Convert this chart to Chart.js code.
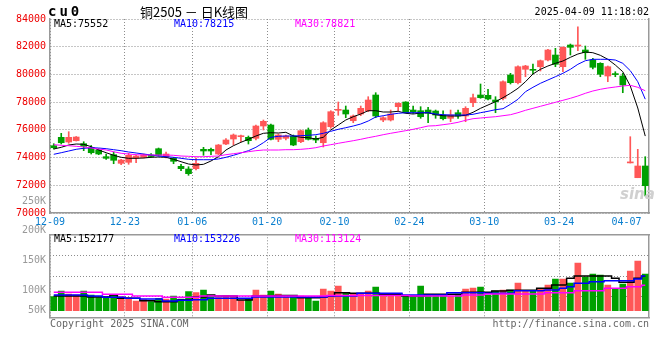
<!DOCTYPE html>
<html>
<head>
<meta charset="utf-8">
<script src="https://cdn.jsdelivr.net/npm/chart.js@4.4.0/dist/chart.umd.min.js"></script>
<style>
body { margin: 0; background: #fff; }
#wrap { position: relative; width: 660px; height: 360px; overflow: hidden; font-family: "DejaVu Sans Mono", monospace; font-size: 10px; }
canvas { position: absolute; left: 0; }
#kline { top: 0; }
#vol { top: 190px; }
.t { position: absolute; white-space: nowrap; line-height: 12px; }
</style>
</head>
<body>
<div id="wrap">
  <canvas id="kline" width="660" height="232"></canvas>
  <canvas id="vol" width="660" height="150"></canvas>
  <div class="t" style="left:48px;top:5px;font-weight:bold;font-size:14px;letter-spacing:3px;">cu0</div>
  <div class="t" style="left:140px;top:4px;font-family:'Noto Sans CJK SC';font-size:13px;line-height:15px;">铜2505 － 日K线图</div>
  <div class="t" style="right:11px;top:6px;">2025-04-09 11:18:02</div>
  <div class="t" id="ma5" style="left:54px;top:18px;color:#000;"></div>
  <div class="t" id="ma10" style="left:174px;top:18px;color:#0000ff;"></div>
  <div class="t" id="ma30" style="left:295px;top:18px;color:#ff00ff;"></div>
  <div class="t" id="vma5" style="left:54px;top:233px;color:#000;"></div>
  <div class="t" id="vma10" style="left:174px;top:233px;color:#0000ff;"></div>
  <div class="t" id="vma30" style="left:295px;top:233px;color:#ff00ff;"></div>
  <div class="t" style="left:620px;top:188px;font-family:'DejaVu Sans';font-style:italic;font-weight:bold;font-size:15px;color:#d0d0d0;">sina</div>
  <div class="t" style="left:50px;top:318px;color:#666;">Copyright 2025 SINA.COM</div>
  <div class="t" style="right:11px;top:318px;color:#666;">http://finance.sina.com.cn</div>
</div>
<script>
// ===== DATA =====
const xTickAt = [0, 10, 19, 29, 38, 48, 58, 68, 77];
const xTickText = ['12-09', '12-23', '01-06', '01-20', '02-10', '02-24', '03-10', '03-24', '04-07'];
const priceTicks = [70000, 72000, 74000, 76000, 78000, 80000, 82000, 84000];

const opens = [74856, 75462, 75123, 75217, 75001, 74690, 74546, 74063, 74207, 73586,
  73659, 73969, 74019, 74185, 74640, 74063, 73947, 73370, 73175, 73197,
  74597, 74597, 74257, 74979, 75340, 75506, 75462, 75390, 76278, 76350,
  75318, 75390, 75556, 75145, 75989, 75390, 75073, 76227, 77411, 77432,
  76660, 77144, 77382, 78515, 76711, 76711, 77671, 78010, 77432, 77382,
  77432, 77360, 77072, 76834, 77238, 76999, 77959, 78515, 78493, 78154,
  78277, 79958, 79403, 80370, 80341, 80557, 81040, 81401, 80557, 82123,
  82051, 81762, 81040, 80802, 79886, 80030, 79886, 73615, 72547, 73392];
const highs = [75001, 75751, 75867, 75520, 75145, 74871, 74640, 74257, 74402, 73875,
  74308, 74185, 74257, 74294, 74690, 74402, 74019, 73514, 73341, 73969,
  74741, 74690, 74943, 75362, 75701, 75628, 75556, 76350, 76711, 76422,
  75701, 75628, 75628, 75989, 76134, 75556, 76588, 77382, 78010, 77721,
  77072, 77721, 78392, 78681, 76949, 77432, 77959, 78030, 77721, 77671,
  77627, 77432, 77382, 77432, 77432, 77671, 78587, 79309, 78926, 78392,
  79547, 80081, 80629, 80658, 80752, 81040, 81812, 81885, 82000, 82195,
  83443, 82051, 81163, 80846, 80608, 80196, 80081, 75506, 74597, 74063];
const lows = [74618, 74979, 75030, 75195, 74496, 74257, 74207, 73875, 73557, 73485,
  73514, 73630, 73969, 74005, 74113, 73969, 73557, 73052, 72720, 73103,
  74164, 74207, 74207, 74929, 74907, 75145, 74979, 75268, 75989, 75268,
  75145, 75268, 74856, 75073, 75268, 75073, 74763, 76112, 77050, 76877,
  76516, 77021, 77310, 76877, 76588, 76639, 77360, 77216, 77194, 76834,
  76516, 76834, 76711, 76588, 76834, 76588, 77671, 78277, 78154, 77238,
  78154, 79309, 79309, 79835, 80030, 80247, 80968, 80557, 80196, 81401,
  81712, 81091, 80391, 79835, 79475, 79835, 78681, 73608, 72547, 71227];
const closes = [74712, 75073, 75462, 75484, 74813, 74351, 74257, 73947, 73803, 73824,
  74164, 74113, 74207, 74077, 74164, 74257, 73731, 73197, 72836, 73586,
  74474, 74474, 74907, 75268, 75628, 75556, 75217, 76278, 76617, 75318,
  75628, 75556, 74907, 75939, 75318, 75268, 76516, 77310, 77454, 77144,
  76999, 77555, 78154, 76999, 76877, 77144, 77916, 77238, 77288, 76949,
  77194, 77072, 76805, 77072, 76999, 77555, 78320, 78320, 78226, 78031,
  79475, 79403, 80557, 80608, 80297, 80990, 81762, 80730, 81957, 81957,
  82101, 81567, 80514, 80009, 80557, 79987, 79236, 73651, 73392, 71970];

const ma5 = [74618, 74741, 74907, 74979, 74957, 74784, 74546, 74351, 74164, 74019,
  73947, 73947, 73969, 74019, 74041, 74019, 73875, 73702, 73536, 73464,
  73514, 73752, 74063, 74546, 74856, 75102, 75318, 75556, 75751, 75794,
  75773, 75823, 75556, 75462, 75434, 75340, 75462, 75989, 76350, 76711,
  76949, 77144, 77382, 77382, 77288, 77288, 77339, 77194, 77144, 77216,
  77238, 77093, 77021, 76999, 76999, 77050, 77267, 77555, 77793, 78031,
  78320, 78638, 78998, 79475, 80030, 80370, 80608, 80802, 80968, 81235,
  81473, 81618, 81567, 81380, 81091, 80680, 80196, 79164, 77577, 75552];
const ma10 = [74236, 74351, 74474, 74597, 74669, 74712, 74690, 74640, 74568, 74496,
  74402, 74330, 74257, 74185, 74113, 74063, 74019, 73947, 73875, 73846,
  73846, 73846, 73897, 74019, 74164, 74330, 74496, 74741, 75073, 75462,
  75535, 75556, 75556, 75578, 75607, 75650, 75751, 75895, 76040, 76155,
  76278, 76422, 76639, 76927, 77021, 77122, 77194, 77238, 77238, 77238,
  77238, 77144, 77093, 77072, 77072, 77072, 77122, 77238, 77339, 77454,
  77526, 77844, 78205, 78753, 79071, 79359, 79597, 79835, 80081, 80370,
  80730, 80990, 81091, 81091, 81091, 81040, 80802, 80269, 79475, 78215];
const ma30 = [74929, 74885, 74856, 74813, 74763, 74690, 74618, 74546, 74423, 74308,
  74257, 74207, 74185, 74185, 74185, 74185, 74164, 74113, 74091, 74063,
  74063, 74091, 74113, 74207, 74279, 74351, 74423, 74496, 74546, 74546,
  74546, 74568, 74568, 74597, 74640, 74712, 74835, 74929, 75030, 75123,
  75217, 75318, 75434, 75535, 75650, 75751, 75845, 75939, 76040, 76155,
  76278, 76300, 76372, 76444, 76545, 76689, 76805, 76855, 76906, 76949,
  77021, 77093, 77238, 77411, 77555, 77700, 77844, 77988, 78132, 78277,
  78443, 78638, 78804, 78926, 79020, 79092, 79164, 79215, 79071, 78821];

const volumes = [62020, 87270, 73980, 69550, 87270, 69550, 57590, 60690, 72650, 62020,
  57590, 42970, 48730, 39870, 54930, 51830, 65120, 51830, 84170, 79740,
  91700, 65120, 57590, 66450, 62020, 44300, 54930, 91700, 69550, 87270,
  73980, 59360, 65120, 65120, 59360, 42970, 96130, 87270, 109420, 77080,
  72650, 75310, 87270, 104990, 73980, 65120, 65120, 65120, 65120, 109420,
  69550, 69550, 65120, 65120, 73980, 96130, 100560, 104990, 69550, 87270,
  91700, 91700, 122710, 88600, 88600, 96130, 113850, 140430, 140430, 122710,
  211310, 149290, 162580, 158150, 113850, 99230, 118280, 175870, 220170, 162580];
const volMa5 = [65120, 65120, 65120, 65120, 65120, 60690, 60690, 60690, 69550, 54930,
  54930, 54930, 44300, 44300, 39870, 39870, 39870, 47400, 47400, 60690,
  60690, 69550, 65120, 65120, 65120, 47400, 47400, 65120, 65120, 65120,
  67340, 67340, 67340, 57590, 57590, 57590, 60690, 65120, 79740, 79740,
  77080, 77080, 77080, 77080, 72650, 72650, 72650, 65120, 65120, 65120,
  72650, 72650, 72650, 72650, 72650, 81510, 81510, 81510, 81510, 87270,
  87270, 90370, 90370, 90370, 90370, 99230, 99230, 113850, 113850, 143530,
  153720, 153720, 153720, 153720, 153720, 143530, 125810, 125810, 143530, 152177];
const volMa10 = [69550, 69550, 69550, 69550, 69550, 65120, 65120, 59360, 59360, 59360,
  54930, 54930, 51830, 51830, 51830, 42970, 42970, 46070, 46070, 48730,
  48730, 54930, 54930, 54930, 54930, 54930, 54930, 60690, 60690, 60690,
  60690, 60690, 60690, 60690, 60690, 60690, 60690, 65120, 65120, 65120,
  65120, 77080, 77080, 77080, 77080, 77080, 77080, 69550, 69550, 69550,
  69550, 69550, 69550, 79740, 79740, 79740, 79740, 79740, 77080, 77080,
  77080, 77080, 88600, 88600, 88600, 88600, 91700, 91700, 99230, 106320,
  121380, 121380, 128470, 128470, 132900, 132900, 132900, 132900, 140430, 153226];
const volMa30 = [81510, 81510, 81510, 81510, 81510, 81510, 81510, 72650, 72650, 72650,
  72650, 65120, 65120, 65120, 65120, 59360, 59360, 59360, 59360, 59360,
  65120, 65120, 65120, 65120, 65120, 65120, 65120, 65120, 65120, 65120,
  65120, 65120, 65120, 65120, 65120, 65120, 65120, 67340, 67340, 67340,
  67340, 67340, 67340, 67340, 67340, 67340, 67340, 67340, 65120, 65120,
  65120, 65120, 65120, 65120, 65120, 69550, 69550, 69550, 73980, 73980,
  73980, 73980, 73980, 73980, 73980, 73980, 79740, 79740, 79740, 79740,
  88600, 88600, 88600, 88600, 99230, 99230, 99230, 106320, 106320, 113124];

const volLabelAt = [0, 90400, 221500, 354400, 486000];
const volLabelText = ['50K', '100K', '150K', '200K', '250K'];

// ===== STYLE =====
const UP = '#ff5757';
const DOWN = '#00a000';
const GRID = '#8c8c8c';
const FRAME = '#999999';
const VOL_MIN = -31000;
const VOL_MAX = 338500;

Chart.defaults.font.family = '"DejaVu Sans Mono", monospace';
Chart.defaults.font.size = 10;
Chart.defaults.animation = false;
Chart.defaults.events = [];

const isUp = opens.map((o, i) => closes[i] >= o);
const barColors = isUp.map(u => u ? UP : DOWN);
const pts = arr => arr.map((v, i) => ({ x: i + 0.5, y: v }));

function dateTicks(scale) {
  scale.ticks = xTickAt.map(v => ({ value: v }));
}
function dateGridColor(ctx) {
  // no dotted line under the last label
  return ctx.tick && ctx.tick.value === 77 ? 'rgba(0,0,0,0)' : GRID;
}

function maLine(data, color, width, stepped) {
  return {
    type: 'line', data: pts(data), borderColor: color, borderWidth: width,
    pointRadius: 0, tension: 0, stepped: stepped, order: 0
  };
}

// ===== K LINE =====
new Chart(document.getElementById('kline'), {
  type: 'bar',
  data: {
    datasets: [
      maLine(ma30, '#ff00ff', 1, false),
      maLine(ma10, '#0000ff', 1, false),
      maLine(ma5, '#000000', 1, false),
      {
        data: opens.map((o, i) => ({ x: i + 0.5, y: [o, closes[i]] })),
        backgroundColor: barColors, barThickness: 6, minBarLength: 1,
        grouped: false, order: 1
      },
      {
        data: lows.map((l, i) => ({ x: i + 0.5, y: [l, highs[i]] })),
        backgroundColor: barColors, barThickness: 1, minBarLength: 1,
        grouped: false, order: 2
      }
    ]
  },
  options: {
    responsive: false,
    layout: { padding: { top: 19, right: 11, left: 0, bottom: 0 } },
    plugins: { legend: { display: false }, tooltip: { enabled: false } },
    scales: {
      x: {
        type: 'linear', min: 0, max: 80, offset: false,
        afterBuildTicks: dateTicks,
        afterFit: s => { s.height = 19; },
        ticks: {
          color: '#0a7fcf', padding: 3, autoSkip: false, maxRotation: 0,
          callback: v => xTickText[xTickAt.indexOf(v)]
        },
        grid: { color: dateGridColor, lineWidth: 1, drawTicks: false, offset: false },
        border: { color: FRAME, width: 1.5, dash: [1, 2] }
      },
      y: {
        type: 'linear', min: 70000, max: 84000,
        afterBuildTicks: s => { s.ticks = priceTicks.map(v => ({ value: v })); },
        afterFit: s => { s.width = 50; },
        ticks: { color: '#ee0000', padding: 4, autoSkip: false, callback: v => String(v) },
        grid: { color: GRID, lineWidth: 1, drawTicks: false },
        border: { color: FRAME, width: 1.5, dash: [1, 2] }
      },
      y2: {
        type: 'linear', position: 'right', min: 70000, max: 84000,
        afterFit: s => { s.width = 0; },
        ticks: { display: false },
        grid: { display: false, drawTicks: false },
        border: { color: FRAME, width: 1.5 }
      }
    }
  }
});

// ===== VOLUME =====
new Chart(document.getElementById('vol'), {
  type: 'bar',
  data: {
    datasets: [
      maLine(volMa30, '#ff00ff', 1.5, 'middle'),
      maLine(volMa10, '#0000ff', 1.5, 'middle'),
      maLine(volMa5, '#000000', 1.5, 'middle'),
      {
        data: pts(volumes), backgroundColor: barColors,
        barThickness: 6, grouped: false, order: 1
      }
    ]
  },
  options: {
    responsive: false,
    layout: { padding: { top: 44.3, right: 11, left: 0, bottom: 22.3 } },
    plugins: { legend: { display: false }, tooltip: { enabled: false } },
    scales: {
      x: {
        type: 'linear', min: 0, max: 80, offset: false,
        afterBuildTicks: dateTicks,
        afterFit: s => { s.height = 0; },
        ticks: { display: false },
        grid: { color: dateGridColor, lineWidth: 1, drawTicks: false, offset: false },
        border: { color: FRAME, width: 1.5, dash: [1, 2] }
      },
      xt: {
        type: 'linear', position: 'top', min: 0, max: 80,
        afterFit: s => { s.height = 0; },
        ticks: { display: false },
        grid: { display: false, drawTicks: false },
        border: { color: FRAME, width: 1.5 }
      },
      y: {
        type: 'linear', position: 'right', min: VOL_MIN, max: VOL_MAX,
        afterBuildTicks: s => {
          const step = (VOL_MAX - VOL_MIN) / 4;
          s.ticks = [1, 2, 3].map(k => ({ value: VOL_MIN + k * step }));
        },
        afterFit: s => { s.width = 0; },
        ticks: { display: false },
        grid: { color: GRID, lineWidth: 1, drawTicks: false },
        border: { color: FRAME, width: 1.5, dash: [1, 2] }
      },
      yl: {
        type: 'linear', position: 'left', min: VOL_MIN, max: VOL_MAX,
        afterBuildTicks: s => { s.ticks = volLabelAt.map(v => ({ value: v })); },
        afterFit: s => { s.width = 50; },
        ticks: {
          color: '#999999', padding: 4, autoSkip: false,
          callback: v => volLabelText[volLabelAt.indexOf(v)]
        },
        grid: { display: false, drawTicks: false },
        border: { color: FRAME, width: 1.5 }
      }
    }
  }
});

// ===== LEGEND TEXT =====
const last = arr => arr[arr.length - 1];
document.getElementById('ma5').textContent = 'MA5:' + last(ma5);
document.getElementById('ma10').textContent = 'MA10:' + last(ma10);
document.getElementById('ma30').textContent = 'MA30:' + last(ma30);
document.getElementById('vma5').textContent = 'MA5:' + last(volMa5);
document.getElementById('vma10').textContent = 'MA10:' + last(volMa10);
document.getElementById('vma30').textContent = 'MA30:' + last(volMa30);
</script>
</body>
</html>
